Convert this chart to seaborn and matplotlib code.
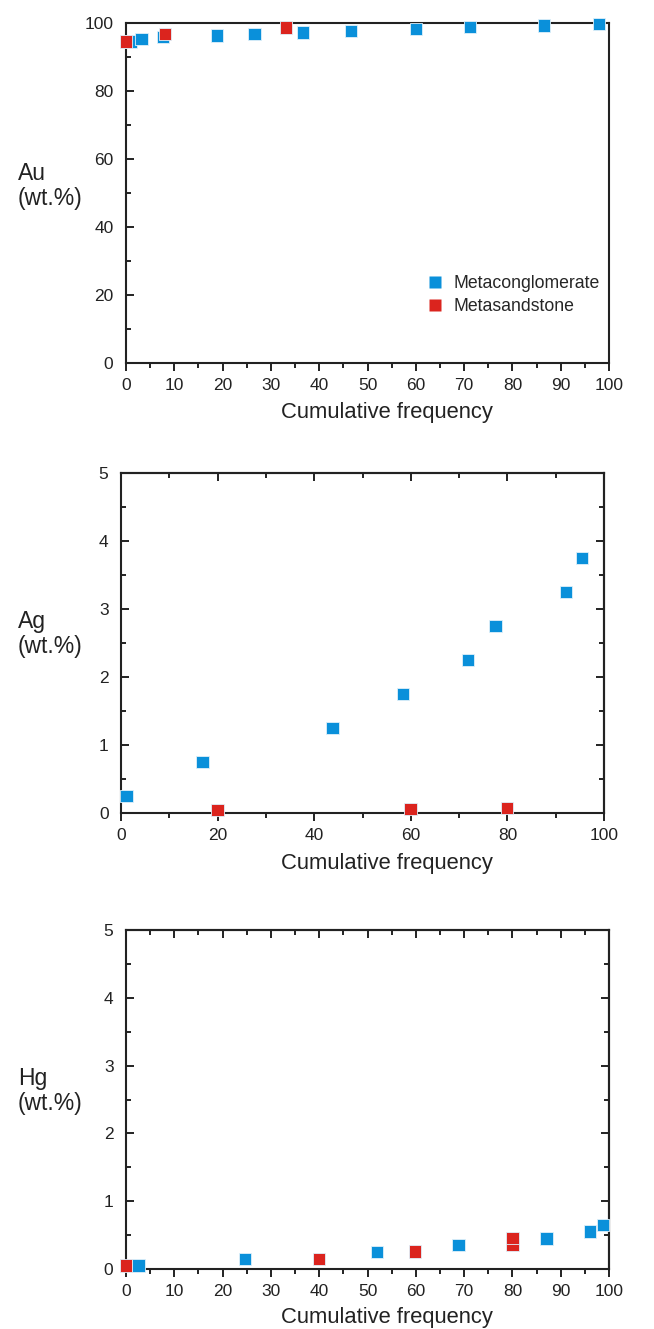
import matplotlib
matplotlib.use("Agg")
import matplotlib.pyplot as plt
import seaborn as sns
import pandas as pd
from matplotlib.ticker import MultipleLocator

# ---- data ----
au_conglo_x = [1.0, 3.2, 7.7, 18.9, 26.6, 36.6, 46.6, 60.0, 71.2, 86.6, 97.9]
au_conglo_y = [94.5, 95.3, 95.8, 96.3, 96.8, 97.2, 97.7, 98.2, 98.8, 99.3, 99.7]
au_sand_x = [0.0, 8.1, 33.1]
au_sand_y = [94.6, 96.8, 98.7]

ag_conglo_x = [1.1, 16.9, 43.8, 58.4, 71.9, 77.5, 92.1, 95.5]
ag_conglo_y = [0.25, 0.75, 1.25, 1.75, 2.25, 2.75, 3.25, 3.75]
ag_sand_x = [20.0, 59.9, 79.9]
ag_sand_y = [0.04, 0.06, 0.07]

hg_conglo_x = [2.6, 24.6, 52.0, 68.8, 87.1, 96.1, 98.8]
hg_conglo_y = [0.05, 0.15, 0.25, 0.35, 0.45, 0.55, 0.65]
hg_sand_x = [0.0, 39.9, 59.8, 80.0, 80.0]
hg_sand_y = [0.05, 0.15, 0.26, 0.35, 0.46]

groups = ["Metaconglomerate", "Metasandstone"]
colors = {"Metaconglomerate": "#0A90DA", "Metasandstone": "#DB241E"}


def frame(cx, cy, sx, sy):
    return pd.DataFrame({
        "x": list(cx) + list(sx),
        "y": list(cy) + list(sy),
        "rock": [groups[0]] * len(cx) + [groups[1]] * len(sx),
    })


sns.set_style("white")
plt.rcParams["font.family"] = ["Liberation Sans", "DejaVu Sans"]

fig = plt.figure(figsize=(6.54, 13.29), dpi=100)

W, H = 654, 1329


def add_ax(l, r, t, b):
    return fig.add_axes([l / W, 1 - b / H, (r - l) / W, (b - t) / H])


axes_boxes = [(126, 609, 23, 363), (121, 604, 473, 813), (126, 609, 930, 1269)]
data = [
    frame(au_conglo_x, au_conglo_y, au_sand_x, au_sand_y),
    frame(ag_conglo_x, ag_conglo_y, ag_sand_x, ag_sand_y),
    frame(hg_conglo_x, hg_conglo_y, hg_sand_x, hg_sand_y),
]
ylims = [(0, 100), (0, 5), (0, 5)]
ymaj = [20, 1, 1]
ymin = [10, 0.5, 0.5]
xmaj = [10, 20, 10]
xmin = [5, 10, 5]
labels = ["Au\n(wt.%)", "Ag\n(wt.%)", "Hg\n(wt.%)"]
label_y = [186, 634, 1091]
xlabel_y = [412, 864, 1317]
mirror = [False, True, True]

for i, box in enumerate(axes_boxes):
    ax = add_ax(*box)
    sns.scatterplot(data=data[i], x="x", y="y", hue="rock", hue_order=groups,
                    palette=colors, marker="s", s=80, linewidth=0.6,
                    edgecolor="#dff0fa", ax=ax, clip_on=False, zorder=3,
                    legend=(i == 0))
    for coll in ax.collections:
        coll.set_clip_on(False)
    ax.set_xlim(0, 100)
    ax.set_ylim(*ylims[i])
    ax.xaxis.set_major_locator(MultipleLocator(xmaj[i]))
    ax.xaxis.set_minor_locator(MultipleLocator(xmin[i]))
    ax.yaxis.set_major_locator(MultipleLocator(ymaj[i]))
    ax.yaxis.set_minor_locator(MultipleLocator(ymin[i]))
    ax.tick_params(axis="x", which="both", direction="out", bottom=True,
                   top=False, labelsize=12.5, colors="#222222", pad=5)
    ax.tick_params(axis="y", which="both", direction="in", left=True,
                   right=False, labelsize=12.5, colors="#222222", pad=9)
    ax.tick_params(which="major", length=6, width=1.4)
    ax.tick_params(which="minor", length=3.5, width=1.4)
    for sp in ax.spines.values():
        sp.set_linewidth(1.5)
        sp.set_color("#222222")
    ax.set_xlabel("")
    ax.set_ylabel("")
    if mirror[i]:
        sx = ax.secondary_xaxis("top")
        sx.xaxis.set_major_locator(MultipleLocator(xmaj[i]))
        sx.xaxis.set_minor_locator(MultipleLocator(xmin[i]))
        sx.tick_params(which="both", direction="in", labeltop=False, width=1.4, colors="#222222")
        sx.tick_params(which="major", length=6)
        sx.tick_params(which="minor", length=3.5)
        sy = ax.secondary_yaxis("right")
        sy.yaxis.set_major_locator(MultipleLocator(ymaj[i]))
        sy.yaxis.set_minor_locator(MultipleLocator(ymin[i]))
        sy.tick_params(which="both", direction="in", labelright=False, width=1.4, colors="#222222")
        sy.tick_params(which="major", length=6)
        sy.tick_params(which="minor", length=3.5)
        for s in (sx, sy):
            for sp in s.spines.values():
                sp.set_linewidth(1.5)
                sp.set_color("#222222")
    if i == 0:
        leg = ax.legend(loc="lower right", bbox_to_anchor=(1.0, 0.115), frameon=False,
                        fontsize=12.7, handletextpad=0.05, labelspacing=0.35,
                        markerscale=0.9, borderaxespad=0.1)
        for h in leg.legend_handles:
            if hasattr(h, "set_markeredgecolor"):
                h.set_markeredgecolor("none")
    fig.text(18 / W, 1 - label_y[i] / H, labels[i], ha="left", va="center",
             fontsize=16.5, color="#222222", linespacing=1.1)
    fig.text(387 / W, 1 - xlabel_y[i] / H, "Cumulative frequency", ha="center",
             va="center", fontsize=15.8, color="#222222")

fig.savefig("out.png", dpi=100)
